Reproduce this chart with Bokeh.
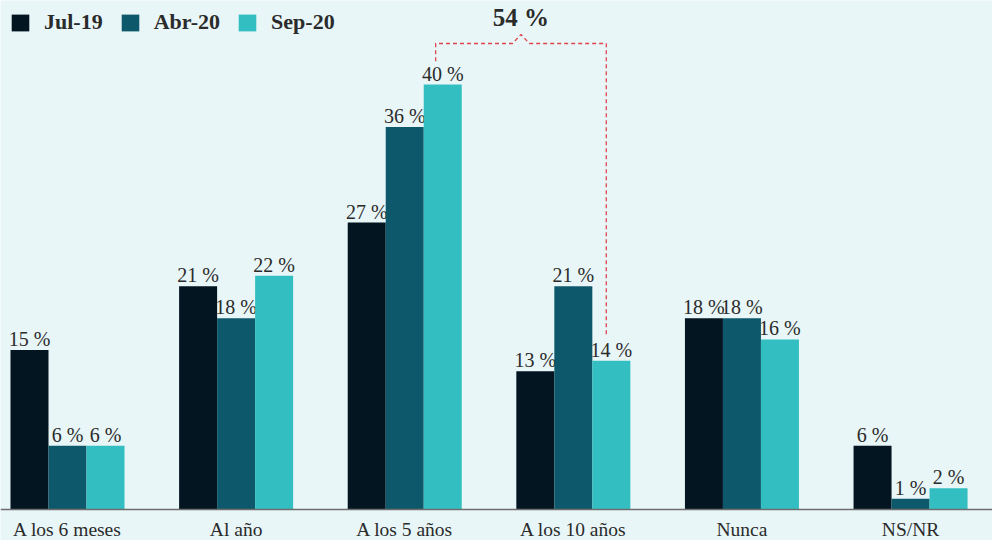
import numpy as np
from bokeh.plotting import figure
from bokeh.models import Range1d, ColumnDataSource, Legend, LegendItem, Span
from bokeh.core.properties import value
from bokeh.embed import file_html
from bokeh.resources import INLINE

categories = ["A los 6 meses", "Al año", "A los 5 años", "A los 10 años", "Nunca", "NS/NR"]
series_names = ["Jul-19", "Abr-20", "Sep-20"]
jul19 = [15, 21, 27, 13, 18, 6]
abr20 = [6, 18, 36, 21, 18, 1]
sep20 = [6, 22, 40, 14, 16, 2]
colors = ["#021520", "#0e586b", "#33bfc1"]

# annotation: sum of Sep-20 for "A los 5 años" and "A los 10 años"
bracket_cats = ["A los 5 años", "A los 10 años"]
bracket_total = 54

BG = "#e8f6f7"
TXT = "#2b2b2b"
FONT = "Liberation Serif"

p = figure(width=992, height=540, output_backend="svg", toolbar_location=None,
           x_range=Range1d(-0.3974, 5.486), y_range=Range1d(-2.918, 47.906),
           x_axis_location=None, y_axis_location=None,
           min_border_left=0, min_border_right=0, min_border_top=0, min_border_bottom=0)
p.background_fill_color = BG
p.border_fill_color = BG
p.outline_line_color = None
p.xgrid.visible = False
p.ygrid.visible = False

w = 0.2254
x = np.arange(len(categories))
renderers = []
all_series = [jul19, abr20, sep20]
for k, (vals, col) in enumerate(zip(all_series, colors)):
    xs = x + (k - 1) * w
    src = ColumnDataSource(dict(x=xs, top=vals, lab=[f"{v} %" for v in vals]))
    r = p.vbar(x="x", top="top", bottom=0, width=w, source=src, fill_color=col, line_color=None)
    renderers.append(r)
    p.text(x="x", y="top", text="lab", source=src, text_align="center",
           text_baseline="alphabetic", y_offset=-11, text_font=value(FONT),
           text_font_size="20px", text_color=TXT)

# baseline
p.add_layout(Span(location=0, dimension="width", line_color="#6e6e6e", line_width=1.5))

# category labels
p.text(x=x, y=[0] * len(categories), text=categories, text_align="center",
       text_baseline="alphabetic", y_offset=20, text_font=value(FONT),
       text_font_size="19.5px", text_color=TXT)

# bracket annotation
i0 = categories.index(bracket_cats[0])
i1 = categories.index(bracket_cats[1])
xa = i0 + w - 0.042
xb = i1 + w - 0.03
ya = sep20[i0]
yb = sep20[i1]
ytop = max(max(s) for s in all_series) + 3.86
xm = (xa + xb) / 2
bx = [xa, xa, xm - 0.05, xm, xm + 0.05, xb, xb]
by = [ya + 2.2, ytop, ytop, ytop + 0.85, ytop, ytop, yb + 2.3]
p.line(bx, by, line_color="#e0444c", line_width=1.3, line_dash="4 3")
p.text(x=[xm], y=[ytop + 1.5], text=[f"{bracket_total} %"], text_align="center",
       text_baseline="alphabetic", y_offset=-10, text_font=value(FONT), text_font_style="bold",
       text_font_size="25px", text_color=TXT)

legend = Legend(items=[LegendItem(label=n, renderers=[r]) for n, r in zip(series_names, renderers)],
                orientation="horizontal", location="top_left")
legend.glyph_width = 22
legend.glyph_height = 21
legend.label_standoff = 13
legend.spacing = 16
legend.padding = 2
legend.margin = 9
legend.border_line_color = None
legend.background_fill_alpha = 0
legend.label_text_font = FONT
legend.label_text_font_style = "bold"
legend.label_text_font_size = "22px"
legend.label_text_color = TXT
p.add_layout(legend)

open("out.html", "w").write(file_html(p, INLINE))
